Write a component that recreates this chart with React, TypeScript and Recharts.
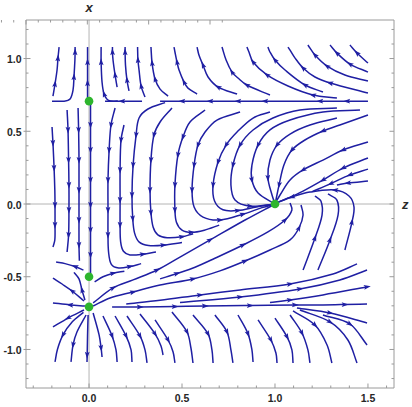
import React from 'react';
import { ComposedChart, Line, XAxis, YAxis, ReferenceLine } from 'recharts';

type Pt = [number, number] | [number, number, number];

// z < 0, above x = 1/sqrt(2) (flow upward)
const topLeftLines: Pt[][] = [
  [[-0.194, 0.742], [-0.183, 0.825, 1], [-0.172, 0.921], [-0.167, 1.003, 1], [-0.161, 1.079]],
  [[-0.199, 0.707], [-0.134, 0.707], [-0.102, 0.722], [-0.086, 0.784], [-0.081, 0.873, 1], [-0.076, 0.99], [-0.075, 1.045, 1], [-0.075, 1.079]],
  [[-0.008, 0.72], [-0.008, 0.832, 1], [-0.008, 0.976, 1], [-0.008, 1.079]],
];

// z > 0, above x = 1/sqrt(2) (flow up / up-left)
const topArcLines: Pt[][] = [
  [[0.156, 0.707], [0.105, 0.712], [0.081, 0.756, 1], [0.07, 0.838], [0.065, 0.976, 1], [0.065, 1.079]],
  [[0.151, 0.804], [0.14, 0.887, 1], [0.129, 0.99], [0.126, 1.045, 1], [0.126, 1.079]],
  [[0.215, 0.777], [0.204, 0.852, 1], [0.196, 0.955], [0.194, 1.045, 1], [0.194, 1.079]],
  [[0.301, 0.735], [0.28, 0.811, 1], [0.269, 0.921], [0.263, 0.99, 1], [0.261, 1.079]],
  [[0.425, 0.742], [0.382, 0.79], [0.355, 0.859, 1], [0.339, 0.969, 1], [0.333, 1.079]],
  [[0.581, 0.756], [0.532, 0.797], [0.511, 0.838, 1], [0.484, 0.921], [0.473, 0.976, 1], [0.462, 1.045], [0.457, 1.079]],
  [[0.796, 0.756], [0.694, 0.804, 1], [0.64, 0.873], [0.613, 0.955, 1], [0.591, 1.024], [0.581, 1.079]],
  [[0.973, 0.749], [0.849, 0.818, 1], [0.801, 0.866], [0.769, 0.907, 1], [0.737, 0.99], [0.715, 1.079]],
  [[1.333, 0.729], [1.204, 0.749, 1], [1.07, 0.811], [0.957, 0.887, 1], [0.882, 0.976, 1], [0.86, 1.045], [0.849, 1.079]],
  [[1.258, 0.77], [1.161, 0.818, 1], [1.054, 0.921], [1.0, 0.99, 1], [0.973, 1.045], [0.962, 1.079]],
  [[1.5, 0.763], [1.296, 0.832, 1], [1.215, 0.873], [1.151, 0.935, 1], [1.108, 1.003], [1.081, 1.058], [1.07, 1.079]],
  [[1.5, 0.845], [1.376, 0.887], [1.28, 0.948, 1], [1.215, 1.024, 1], [1.177, 1.093]],
  [[1.5, 0.907], [1.403, 0.962, 1], [1.333, 1.038, 1], [1.296, 1.093]],
  [[1.5, 0.969], [1.441, 1.038, 1], [1.403, 1.093]],
];

// invariant lines x = ±1/sqrt(2) and z = 0
const invariantLines: Pt[][] = [
  [[1.5, 0.707], [1.387, 0.707, 1], [1.242, 0.707, 1], [1.07, 0.707], [0.946, 0.707, 1], [0.801, 0.707, 1], [0.651, 0.707, 1], [0.5, 0.707, 1], [0.382, 0.707]],
  [[0.285, 0.707], [0.177, 0.707, 1], [0.086, 0.707]],
  [[0.008, 0.69], [0.008, 0.543, 1], [0.008, 0.371, 1], [0.008, 0.165, 1], [0.008, -0.007, 1], [0.008, -0.179, 1], [0.008, -0.351, 1], [0.008, -0.48]],
  [[0.124, -0.708], [0.274, -0.708, 1], [0.462, -0.705, 1], [0.624, -0.701, 1], [0.866, -0.698, 1], [1.108, -0.694, 1], [1.258, -0.694], [1.376, -0.691, 1], [1.495, -0.687]],
];

// z < 0, between the invariant lines (flow downward), and near the saddle
const leftLines: Pt[][] = [
  [[-0.199, 0.529], [-0.194, 0.419, 1], [-0.188, 0.247, 1], [-0.184, 0.096], [-0.183, -0.007, 1], [-0.183, -0.144, 1], [-0.184, -0.247], [-0.194, -0.296]],
  [[-0.118, 0.646], [-0.113, 0.509, 1], [-0.11, 0.302, 1], [-0.108, 0.131, 1], [-0.108, -0.041, 1], [-0.11, -0.213, 1], [-0.118, -0.33]],
  [[-0.059, 0.66], [-0.056, 0.509, 1], [-0.054, 0.302, 1], [-0.054, 0.096, 1], [-0.054, -0.11, 1], [-0.054, -0.282, 1], [-0.052, -0.39]],
  [[-0.03, -0.455], [-0.075, -0.43, 1], [-0.129, -0.41], [-0.177, -0.399]],
  [[-0.022, -0.66], [-0.038, -0.591, 1], [-0.054, -0.515], [-0.081, -0.47]],
  [[0.03, -0.535], [0.075, -0.5], [0.13, -0.476, 1], [0.19, -0.462]],
];

// z > 0, curving down then into the node (1, 0)
const centerLines: Pt[][] = [
  [[0.14, 0.66], [0.118, 0.543, 1], [0.108, 0.371, 1], [0.102, 0.165, 1], [0.102, -0.041, 1], [0.102, -0.213, 1], [0.105, -0.33], [0.12, -0.415], [0.16, -0.44], [0.22, -0.43, 1], [0.28, -0.41]],
  [[0.188, 0.543], [0.172, 0.44, 1], [0.167, 0.234, 1], [0.167, 0.027, 1], [0.167, -0.144, 1], [0.17, -0.26], [0.185, -0.325], [0.22, -0.35], [0.29, -0.345, 1], [0.36, -0.33]],
  [[0.409, 0.697], [0.317, 0.653], [0.269, 0.591], [0.253, 0.474, 1], [0.237, 0.268, 1], [0.231, 0.062, 1], [0.235, -0.1, 1], [0.245, -0.2], [0.27, -0.262], [0.32, -0.285], [0.4, -0.283, 1], [0.5, -0.265]],
  [[0.446, 0.66], [0.382, 0.564], [0.349, 0.474, 1], [0.333, 0.302, 1], [0.328, 0.096, 1], [0.333, -0.06, 1], [0.345, -0.16], [0.37, -0.212], [0.42, -0.232], [0.5, -0.225, 1], [0.56, -0.205]],
  [[0.624, 0.646], [0.543, 0.564], [0.505, 0.46, 1], [0.478, 0.337, 1], [0.462, 0.131, 1], [0.462, -0.041, 1], [0.47, -0.125], [0.5, -0.18], [0.55, -0.195, 1], [0.62, -0.18], [0.7, -0.145]],
  [[0.812, 0.632], [0.688, 0.577], [0.624, 0.495], [0.586, 0.405, 1], [0.565, 0.268, 1], [0.554, 0.096, 1], [0.565, -0.021], [0.613, -0.09], [0.704, -0.11, 1], [0.828, -0.07, 1], [0.93, -0.025], [1.0, 0]],
  [[0.973, 0.632], [0.882, 0.591], [0.796, 0.495], [0.737, 0.405, 1], [0.694, 0.289, 1], [0.667, 0.131, 1], [0.675, 0.02], [0.72, -0.04], [0.8, -0.045, 1], [0.9, -0.02], [1.0, 0]],
  [[1.333, 0.66], [1.134, 0.646], [0.989, 0.591], [0.882, 0.509], [0.812, 0.405, 1], [0.774, 0.268, 1], [0.763, 0.131], [0.785, 0.027], [0.866, -0.015, 1], [1.0, 0]],
  [[1.457, 0.646], [1.258, 0.632], [1.081, 0.577], [0.973, 0.509], [0.909, 0.405, 1], [0.876, 0.268], [0.876, 0.165, 1], [0.909, 0.076], [1.0, 0]],
  [[1.333, 0.591], [1.188, 0.543], [1.081, 0.481], [1.011, 0.405, 1], [0.973, 0.302], [0.962, 0.179, 1], [0.984, 0.062], [1.0, 0]],
  [[1.5, 0.612], [1.349, 0.543], [1.258, 0.502, 1], [1.161, 0.44], [1.091, 0.371, 1], [1.048, 0.268], [1.022, 0.131, 1], [1.005, 0.027]],
];

// right of the node: from the right edge and hooks from below
const rightLines: Pt[][] = [
  [[1.5, 0.426], [1.366, 0.371, 1], [1.258, 0.302], [1.151, 0.234, 1], [1.081, 0.165], [1.027, 0.062], [1.005, 0.014]],
  [[1.5, 0.316], [1.366, 0.247, 1], [1.258, 0.165, 1], [1.151, 0.089], [1.07, 0.041], [1.005, 0.007]],
  [[1.5, 0.24], [1.403, 0.2, 1], [1.3, 0.14, 1], [1.2, 0.085]],
  [[1.5, 0.158], [1.392, 0.144, 1], [1.333, 0.131]],
  [[1.376, -0.316], [1.414, -0.124, 1], [1.425, -0.021], [1.398, 0.055], [1.323, 0.096, 1], [1.188, 0.082], [1.091, 0.048, 1], [1.005, 0.007]],
  [[1.231, -0.454], [1.296, -0.247, 1], [1.339, -0.076], [1.333, 0.027], [1.285, 0.069]],
  [[1.151, -0.454], [1.215, -0.234, 1], [1.253, -0.076], [1.247, 0.021], [1.215, 0.055]],
];

// between x = -1/sqrt(2) and the node, flowing up-right
const lowerLines: Pt[][] = [
  [[0.022, -0.68], [0.129, -0.577, 1], [0.237, -0.522], [0.366, -0.454, 1], [0.489, -0.365], [0.651, -0.247, 1], [0.839, -0.11], [1.0, 0]],
  [[0.382, -0.515], [0.473, -0.478, 1], [0.57, -0.435], [0.677, -0.373], [0.828, -0.282, 1], [0.962, -0.192], [1.054, -0.11, 1], [1.091, -0.041], [1.081, 0.007]],
  [[0.022, -0.701], [0.113, -0.646], [0.237, -0.605, 1], [0.382, -0.557], [0.559, -0.515, 1], [0.704, -0.46], [0.839, -0.392, 1], [0.973, -0.316], [1.081, -0.247], [1.129, -0.165, 1], [1.151, -0.076], [1.14, -0.007]],
  [[0.2, -0.688], [0.382, -0.662], [0.597, -0.625, 1], [0.812, -0.591], [1.081, -0.55, 1], [1.312, -0.481], [1.441, -0.412]],
  [[0.489, -0.677], [0.812, -0.639, 1], [1.134, -0.584, 1], [1.349, -0.522], [1.495, -0.454]],
  [[0.973, -0.677], [1.081, -0.66, 1], [1.258, -0.625], [1.495, -0.57, 1]],
];

// out of the source (0, -1/sqrt(2)) and below it
const sourceLines: Pt[][] = [
  [[-0.022, -0.701], [-0.102, -0.694, 1], [-0.194, -0.68]],
  [[-0.027, -0.667], [-0.091, -0.598, 1], [-0.145, -0.55], [-0.194, -0.509]],
  [[-0.027, -0.729], [-0.113, -0.784, 1], [-0.194, -0.845]],
  [[-0.03, -0.745], [-0.09, -0.81], [-0.14, -0.9, 1], [-0.17, -1.0], [-0.183, -1.086]],
  [[-0.016, -0.763], [-0.065, -0.88], [-0.086, -0.969, 1], [-0.097, -1.086]],
  [[-0.005, -0.763], [-0.008, -0.9], [-0.01, -1.038, 1], [-0.011, -1.086]],
  [[0.022, -0.749], [0.054, -0.9], [0.065, -0.99, 1], [0.07, -1.052]],
  [[0.075, -0.77], [0.124, -0.907, 1], [0.145, -1.003], [0.151, -1.086]],
  [[0.14, -0.77], [0.199, -0.907, 1], [0.226, -1.003], [0.231, -1.086]],
  [[0.204, -0.77], [0.274, -0.907, 1], [0.301, -1.003], [0.312, -1.093]],
  [[0.274, -0.756], [0.355, -0.893, 1], [0.387, -0.976], [0.398, -1.038]],
  [[0.355, -0.797], [0.425, -0.935, 1], [0.452, -1.017], [0.462, -1.093]],
  [[0.446, -0.742], [0.527, -0.88, 1], [0.548, -0.99], [0.559, -1.093]],
  [[0.559, -0.763], [0.64, -0.893, 1], [0.661, -1.003], [0.667, -1.093]],
  [[0.677, -0.763], [0.742, -0.88, 1], [0.763, -1.003], [0.774, -1.093]],
  [[0.801, -0.763], [0.855, -0.893, 1], [0.876, -1.003], [0.882, -1.086]],
  [[0.909, -0.797], [0.978, -0.935, 1], [1.005, -1.024], [1.011, -1.093]],
  [[1.0, -0.784], [1.065, -0.914, 1], [1.091, -1.003], [1.097, -1.093]],
  [[1.081, -0.763], [1.145, -0.887, 1], [1.177, -1.003], [1.188, -1.093]],
  [[1.097, -0.735], [1.215, -0.832, 1], [1.28, -0.969], [1.306, -1.093]],
  [[1.134, -0.729], [1.296, -0.811, 1], [1.392, -0.935], [1.441, -1.093]],
  [[1.258, -0.763], [1.403, -0.825, 1], [1.495, -0.969]],
  [[1.118, -0.715], [1.296, -0.749, 1], [1.495, -0.818]],
];

const fixedPoints = [
  { z: 0, x: 0.7071 },
  { z: 0, x: -0.5 },
  { z: 0, x: -0.7071 },
  { z: 1, x: 0 },
];

const zTicks = [-0.3, -0.2, -0.1, 0, 0.1, 0.2, 0.3, 0.4, 0.5, 0.6, 0.7, 0.8, 0.9, 1.0, 1.1, 1.2, 1.3, 1.4, 1.5, 1.6];
const xTicks = [-1.2, -1.1, -1.0, -0.9, -0.8, -0.7, -0.6, -0.5, -0.4, -0.3, -0.2, -0.1, 0, 0.1, 0.2, 0.3, 0.4, 0.5, 0.6, 0.7, 0.8, 0.9, 1.0, 1.1, 1.2];
const zLabelTicks = [0, 0.5, 1.0, 1.5];
const xLabelTicks = [-1.0, -0.5, 0, 0.5, 1.0];
const zDomain: [number, number] = [-0.339, 1.64];
const xDomain: [number, number] = [-1.265, 1.265];

const BLUE = '#1f1fa3';
const GREEN = '#2db52d';
const FRAME = '#9a9a9a';
const AXIS = '#b4b4b4';

const LABEL_FONT: React.CSSProperties = {
  fontFamily: '"Liberation Sans", Arial, sans-serif',
  fontSize: 10.5,
  fontWeight: 700,
  fill: '#262626',
};
const NAME_FONT: React.CSSProperties = {
  fontFamily: '"Liberation Sans", Arial, sans-serif',
  fontSize: 13,
  fontWeight: 700,
  fontStyle: 'italic',
  fill: '#2a2a2a',
};

const toData = (line: Pt[]) => line.map((p) => ({ z: p[0], x: p[1], a: p[2] ? 1 : 0 }));

const allLines = [
  ...topLeftLines,
  ...topArcLines,
  ...invariantLines,
  ...leftLines,
  ...centerLines,
  ...rightLines,
  ...lowerLines,
  ...sourceLines,
].map(toData);

const near = (v: number, list: number[]) => list.some((m) => Math.abs(m - v) < 1e-6);
const fmt = (v: number) => (Math.abs(v) < 1e-9 ? '0.0' : v.toFixed(1));

// smooth curve through the points (chord-scaled Catmull-Rom style)
function smoothCurve(context: any) {
  let pts: [number, number][] = [];
  return {
    areaStart() {},
    areaEnd() {},
    lineStart() {
      pts = [];
    },
    point(x: number, y: number) {
      pts.push([+x, +y]);
    },
    lineEnd() {
      const n = pts.length;
      if (n === 0) return;
      context.moveTo(pts[0][0], pts[0][1]);
      if (n === 1) return;
      const d = (a: [number, number], b: [number, number]) => Math.hypot(b[0] - a[0], b[1] - a[1]) || 1e-6;
      const tan = (i: number): [number, number] => {
        const a = pts[Math.max(0, i - 1)];
        const b = pts[Math.min(n - 1, i + 1)];
        const l = (i > 0 ? d(pts[i - 1], pts[i]) : 0) + (i < n - 1 ? d(pts[i], pts[i + 1]) : 0) || 1e-6;
        return [(b[0] - a[0]) / l, (b[1] - a[1]) / l];
      };
      for (let i = 0; i < n - 1; i++) {
        const p = pts[i];
        const q = pts[i + 1];
        const L = d(p, q) / 3;
        const t0 = tan(i);
        const t1 = tan(i + 1);
        context.bezierCurveTo(p[0] + t0[0] * L, p[1] + t0[1] * L, q[0] - t1[0] * L, q[1] - t1[1] * L, q[0], q[1]);
      }
    },
  };
}

function renderArrow(p: any) {
  const { cx, cy, index, points, payload } = p;
  const k = `a-${index}`;
  if (!payload || !payload.a || !points || cx == null || cy == null) return <g key={k} />;
  const prev = points[Math.max(0, index - 1)];
  const next = points[Math.min(points.length - 1, index + 1)];
  let dx = next.x - prev.x;
  let dy = next.y - prev.y;
  const len = Math.hypot(dx, dy) || 1;
  dx /= len;
  dy /= len;
  const tip = 3.8;
  const back = 3.2;
  const notch = 1.8;
  const half = 2.4;
  const poly = [
    [cx + dx * tip, cy + dy * tip],
    [cx - dx * back - dy * half, cy - dy * back + dx * half],
    [cx - dx * notch, cy - dy * notch],
    [cx - dx * back + dy * half, cy - dy * back - dx * half],
  ]
    .map((q) => q.map((v) => v.toFixed(2)).join(','))
    .join(' ');
  return <polygon key={k} points={poly} fill={BLUE} stroke="none" />;
}

function renderFixed(p: any) {
  const { cx, cy, index } = p;
  if (cx == null || cy == null) return <g key={`f-${index}`} />;
  return <circle key={`f-${index}`} cx={cx} cy={cy} r={4.3} fill={GREEN} stroke="none" />;
}

function BottomTick(p: any) {
  const v = p.payload.value;
  const major = near(v, zLabelTicks);
  return (
    <g>
      <line x1={p.x} x2={p.x} y1={p.y} y2={p.y - (major ? 4.5 : 2.5)} stroke={FRAME} />
      {major ? (
        <text x={p.x} y={p.y + 13.8} textAnchor="middle" style={LABEL_FONT}>
          {fmt(v)}
        </text>
      ) : null}
    </g>
  );
}

function TopTick(p: any) {
  const v = p.payload.value;
  const major = near(v, zLabelTicks);
  return <line x1={p.x} x2={p.x} y1={p.y} y2={p.y + (major ? 4.5 : 2.5)} stroke={FRAME} />;
}

function LeftTick(p: any) {
  const v = p.payload.value;
  const major = near(v, xLabelTicks);
  return (
    <g>
      <line x1={p.x} x2={p.x + (major ? 4.5 : 2.5)} y1={p.y} y2={p.y} stroke={FRAME} />
      {major ? <line x1={p.x - 2.5} x2={p.x} y1={p.y} y2={p.y} stroke={FRAME} /> : null}
      {major ? (
        <text x={p.x - 4.5} y={p.y + 4.6} textAnchor="end" style={LABEL_FONT}>
          {fmt(v)}
        </text>
      ) : null}
    </g>
  );
}

function RightTick(p: any) {
  const v = p.payload.value;
  const major = near(v, xLabelTicks);
  return <line x1={p.x} x2={p.x - (major ? 4.5 : 2.5)} y1={p.y} y2={p.y} stroke={FRAME} />;
}

function TopName(p: any) {
  const vb = p.viewBox || {};
  return (
    <text x={vb.x} y={(vb.y ?? 20) - 8} textAnchor="middle" style={NAME_FONT}>
      x
    </text>
  );
}

function RightName(p: any) {
  const vb = p.viewBox || {};
  return (
    <text x={(vb.x ?? 0) + (vb.width ?? 0) + 8} y={(vb.y ?? 0) + 4.5} textAnchor="start" style={NAME_FONT}>
      z
    </text>
  );
}

export default function App() {
  return (
    <div style={{ position: 'absolute', left: 0, top: 0, width: 412, height: 407, background: '#ffffff' }}>
      <ComposedChart width={412} height={407} margin={{ top: 19, right: 17, bottom: 0, left: 0 }}>
        <XAxis
          dataKey="z"
          type="number"
          domain={zDomain}
          allowDataOverflow
          ticks={zTicks}
          interval={0}
          tickLine={false}
          tickSize={0}
          tickMargin={0}
          height={19}
          axisLine={{ stroke: FRAME }}
          tick={(p: any) => <BottomTick {...p} />}
        />
        <XAxis
          xAxisId="t"
          orientation="top"
          type="number"
          domain={zDomain}
          allowDataOverflow
          ticks={zTicks}
          interval={0}
          tickLine={false}
          tickSize={0}
          tickMargin={0}
          height={1}
          axisLine={{ stroke: FRAME }}
          tick={(p: any) => <TopTick {...p} />}
        />
        <YAxis
          type="number"
          domain={xDomain}
          allowDataOverflow
          ticks={xTicks}
          interval={0}
          tickLine={false}
          tickSize={0}
          tickMargin={0}
          width={26}
          axisLine={{ stroke: FRAME }}
          tick={(p: any) => <LeftTick {...p} />}
        />
        <YAxis
          yAxisId="r"
          orientation="right"
          type="number"
          domain={xDomain}
          allowDataOverflow
          ticks={xTicks}
          interval={0}
          tickLine={false}
          tickSize={0}
          tickMargin={0}
          width={1}
          axisLine={{ stroke: FRAME }}
          tick={(p: any) => <RightTick {...p} />}
        />
        <ReferenceLine x={0} stroke={AXIS} strokeWidth={1} label={<TopName />} />
        <ReferenceLine y={0} stroke={AXIS} strokeWidth={1} label={<RightName />} />
        <Line
          data={fixedPoints}
          xAxisId="t"
          yAxisId="r"
          dataKey="x"
          stroke="none"
          dot={false}
          activeDot={false}
          isAnimationActive={false}
        />
        {allLines.map((d, i) => (
          <Line
            key={`s-${i}`}
            data={d}
            dataKey="x"
            type={smoothCurve as any}
            stroke={BLUE}
            strokeWidth={1.5}
            fill="none"
            dot={renderArrow}
            activeDot={false}
            isAnimationActive={false}
          />
        ))}
        <Line
          data={fixedPoints}
          dataKey="x"
          stroke="none"
          dot={renderFixed}
          activeDot={false}
          isAnimationActive={false}
        />
      </ComposedChart>
    </div>
  );
}
